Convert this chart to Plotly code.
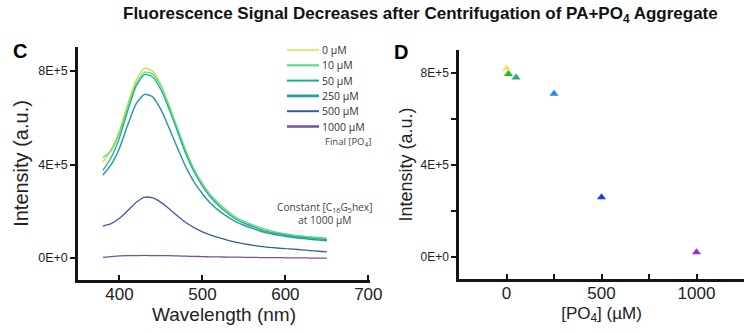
import plotly.graph_objects as go

# ---------------- data ----------------
wavelength = list(range(380, 651, 10))
series_names = ["0 µM", "10 µM", "50 µM", "250 µM", "500 µM", "1000 µM"]

# intensities in units of 1E+5 (a.u.)
int_0 = [4.1, 4.65, 5.45, 6.6, 7.6, 8.12, 8.0, 7.4, 6.5, 5.5, 4.5, 3.7, 3.1, 2.6,
         2.25, 1.95, 1.68, 1.5, 1.37, 1.23, 1.13, 1.05, 0.99, 0.94, 0.9, 0.87, 0.84, 0.81]
int_10 = [4.3, 4.6, 5.35, 6.45, 7.45, 7.95, 7.88, 7.35, 6.5, 5.55, 4.6, 3.8, 3.2, 2.7,
          2.33, 2.02, 1.75, 1.57, 1.43, 1.3, 1.19, 1.1, 1.04, 0.99, 0.95, 0.91, 0.88, 0.85]
int_50 = [3.75, 4.3, 5.15, 6.3, 7.35, 7.85, 7.75, 7.2, 6.35, 5.4, 4.45, 3.68, 3.08, 2.6,
          2.23, 1.93, 1.67, 1.49, 1.35, 1.22, 1.12, 1.04, 0.98, 0.93, 0.89, 0.85, 0.82, 0.79]
int_250 = [3.55, 4.0, 4.7, 5.7, 6.6, 7.0, 6.9, 6.35, 5.55, 4.7, 3.9, 3.25, 2.75, 2.33,
           2.02, 1.77, 1.56, 1.4, 1.27, 1.15, 1.06, 0.99, 0.93, 0.88, 0.84, 0.8, 0.77, 0.74]
int_500 = [1.37, 1.47, 1.7, 2.03, 2.38, 2.6, 2.57, 2.38, 2.1, 1.8, 1.52, 1.3, 1.12, 0.98,
           0.87, 0.77, 0.68, 0.61, 0.55, 0.5, 0.46, 0.43, 0.4, 0.38, 0.35, 0.32, 0.29, 0.26]
int_1000 = [0.03, 0.06, 0.09, 0.1, 0.1, 0.11, 0.1, 0.1, 0.1, 0.09, 0.08, 0.07, 0.06, 0.05,
            0.05, 0.04, 0.04, 0.03, 0.03, 0.02, 0.02, 0.02, 0.01, 0.01, 0.01, 0.0, 0.0, 0.0]
spectra = [int_0, int_10, int_50, int_250, int_500, int_1000]

po4_conc = [0, 10, 50, 250, 500, 1000]
peak_intensity = [8.2, 7.96, 7.8, 7.1, 2.6, 0.2]  # x 1E+5

y_tickvals = [0, 4e5, 8e5]
y_ticktext = ["0E+0", "4E+5", "8E+5"]
d_y_tickvals = [0, 2e5, 4e5, 6e5, 8e5]
d_y_ticktext = ["0E+0", "", "4E+5", "", "8E+5"]
c_xticks = [400, 500, 600, 700]
d_xtickvals = [0, 250, 500, 750, 1000]
d_xticktext = ["0", "", "500", "", "1000"]

# axis ranges
c_xrange = [350, 702]
c_yrange = [-0.94e5, 9.03e5]
d_xrange = [-250, 1250]
d_yrange = [-0.96e5, 9.0e5]

# ---------------- styles ----------------
line_colors = ["#c6e327", "#5bdc8e", "#1fae8c", "#2c9aa9", "#3b5ba9", "#7d4f9f"]
line_widths = [1.3, 1.3, 1.3, 1.5, 1.3, 1.3]
legend_widths = [1.3, 2.2, 2.0, 2.8, 2.0, 2.5]
marker_colors = ["#f0e36e", "#14c22a", "#1fb07c", "#1f8fe3", "#1c3cf0", "#9b2fe0"]

W, H = 744, 333
SCALE = 1e5
FONT = "Liberation Sans, Arial"
AX = "#151515"

fig = go.Figure()

for name, vals, col, lw in zip(series_names, spectra, line_colors, line_widths):
    fig.add_trace(go.Scatter(
        x=wavelength, y=[v * SCALE for v in vals], mode="lines",
        line=dict(color=col, width=lw, shape="spline", smoothing=0.6),
        name=name, showlegend=False, xaxis="x", yaxis="y"))

for name, xv, yv, col in zip(series_names, po4_conc, peak_intensity, marker_colors):
    fig.add_trace(go.Scatter(
        x=[xv], y=[yv * SCALE], mode="markers",
        marker=dict(symbol="triangle-up", size=8, color=col),
        name=name, showlegend=False, xaxis="x2", yaxis="y2"))

fig.update_layout(
    template="none",
    width=W, height=H, margin=dict(l=0, r=0, t=0, b=0),
    paper_bgcolor="white", plot_bgcolor="rgba(0,0,0,0)", showlegend=False,
    xaxis=dict(domain=[78 / W, 370 / W], range=c_xrange, anchor="y",
               showline=True, linecolor=AX, linewidth=2.5, layer="above traces",
               showgrid=False, zeroline=False,
               tickmode="array", tickvals=c_xticks, ticks="inside", ticklen=5,
               tickwidth=2, tickcolor=AX, ticklabelstandoff=-3,
               tickfont=dict(family=FONT, size=17, color="#222"),
               title=dict(text="Wavelength (nm)", font=dict(family=FONT, size=19, color="#222"),
                          standoff=5)),
    yaxis=dict(domain=[(H - 280) / H, (H - 47) / H], range=c_yrange, anchor="x",
               showline=True, linecolor=AX, linewidth=2.5, layer="above traces",
               showgrid=False, zeroline=False,
               tickmode="array", tickvals=y_tickvals, ticktext=y_ticktext, ticks="outside",
               ticklen=5, tickwidth=2, tickcolor=AX,
               tickfont=dict(family=FONT, size=12.5, color="#222"),
               title=dict(text="Intensity (a.u.)", font=dict(family=FONT, size=20, color="#222"),
                          standoff=5)),
    xaxis2=dict(domain=[459 / W, 1.0], range=d_xrange, anchor="y2",
                showline=True, linecolor=AX, linewidth=2.5, layer="above traces",
                showgrid=False, zeroline=False,
                tickmode="array", tickvals=d_xtickvals, ticktext=d_xticktext, ticks="inside",
                ticklen=5, tickwidth=2, tickcolor=AX, ticklabelstandoff=-3,
                tickfont=dict(family=FONT, size=17, color="#222"),
                title=dict(text="[PO<sub>4</sub>] (µM)", font=dict(family=FONT, size=17, color="#222"),
                           standoff=5)),
    yaxis2=dict(domain=[(H - 279) / H, (H - 50) / H], range=d_yrange, anchor="x2",
                showline=True, linecolor=AX, linewidth=2.5, layer="above traces",
                showgrid=False, zeroline=False,
                tickmode="array", tickvals=d_y_tickvals, ticktext=d_y_ticktext, ticks="outside",
                ticklen=5, tickwidth=2, tickcolor=AX,
                tickfont=dict(family=FONT, size=12, color="#222"),
                title=dict(text="Intensity (a.u.)", font=dict(family=FONT, size=18, color="#222"),
                           standoff=4)),
)

annotations = [
    dict(text="<b>Fluorescence Signal Decreases after Centrifugation of PA+PO<sub>4</sub> Aggregate</b>",
         x=420 / W, y=(H - 15) / H, xref="paper", yref="paper", showarrow=False,
         xanchor="center", yanchor="middle",
         font=dict(family=FONT, size=17, color="#111")),
    dict(text="<b>C</b>", x=20 / W, y=(H - 51) / H, xref="paper", yref="paper", showarrow=False,
         xanchor="center", yanchor="middle", font=dict(family=FONT, size=20, color="black")),
    dict(text="<b>D</b>", x=401 / W, y=(H - 52) / H, xref="paper", yref="paper", showarrow=False,
         xanchor="center", yanchor="middle", font=dict(family=FONT, size=20, color="black")),
    dict(text="Final [PO<sub>4</sub>]", x=323 / W, y=(H - 142) / H, xref="paper", yref="paper",
         showarrow=False, xanchor="left", yanchor="middle",
         font=dict(family="Open Sans", size=9.5, color="#444")),
    dict(text="Constant [C<sub>16</sub>G<sub>5</sub>hex]<br>at 1000 µM", x=325 / W, y=(H - 214) / H,
         xref="paper", yref="paper", showarrow=False, xanchor="center", yanchor="middle",
         align="center", font=dict(family="Open Sans", size=10.2, color="#444")),
]

shapes = []
# manual compact legend
for i, (name, col, lw) in enumerate(zip(series_names, line_colors, legend_widths)):
    yy = (H - (50 + 15.3 * i)) / H
    shapes.append(dict(type="line", xref="paper", yref="paper", x0=287 / W, x1=319 / W,
                       y0=yy, y1=yy, line=dict(color=col, width=lw)))
    annotations.append(dict(text=name, x=320 / W, y=yy, xref="paper", yref="paper",
                            showarrow=False, xanchor="left", yanchor="middle",
                            font=dict(family="Open Sans", size=10.5, color="#333")))

fig.update_layout(annotations=annotations, shapes=shapes)
fig.write_html("out.html", config={"displayModeBar": False},
               post_script="document.body.style.margin='0';document.body.style.overflow='hidden';")
